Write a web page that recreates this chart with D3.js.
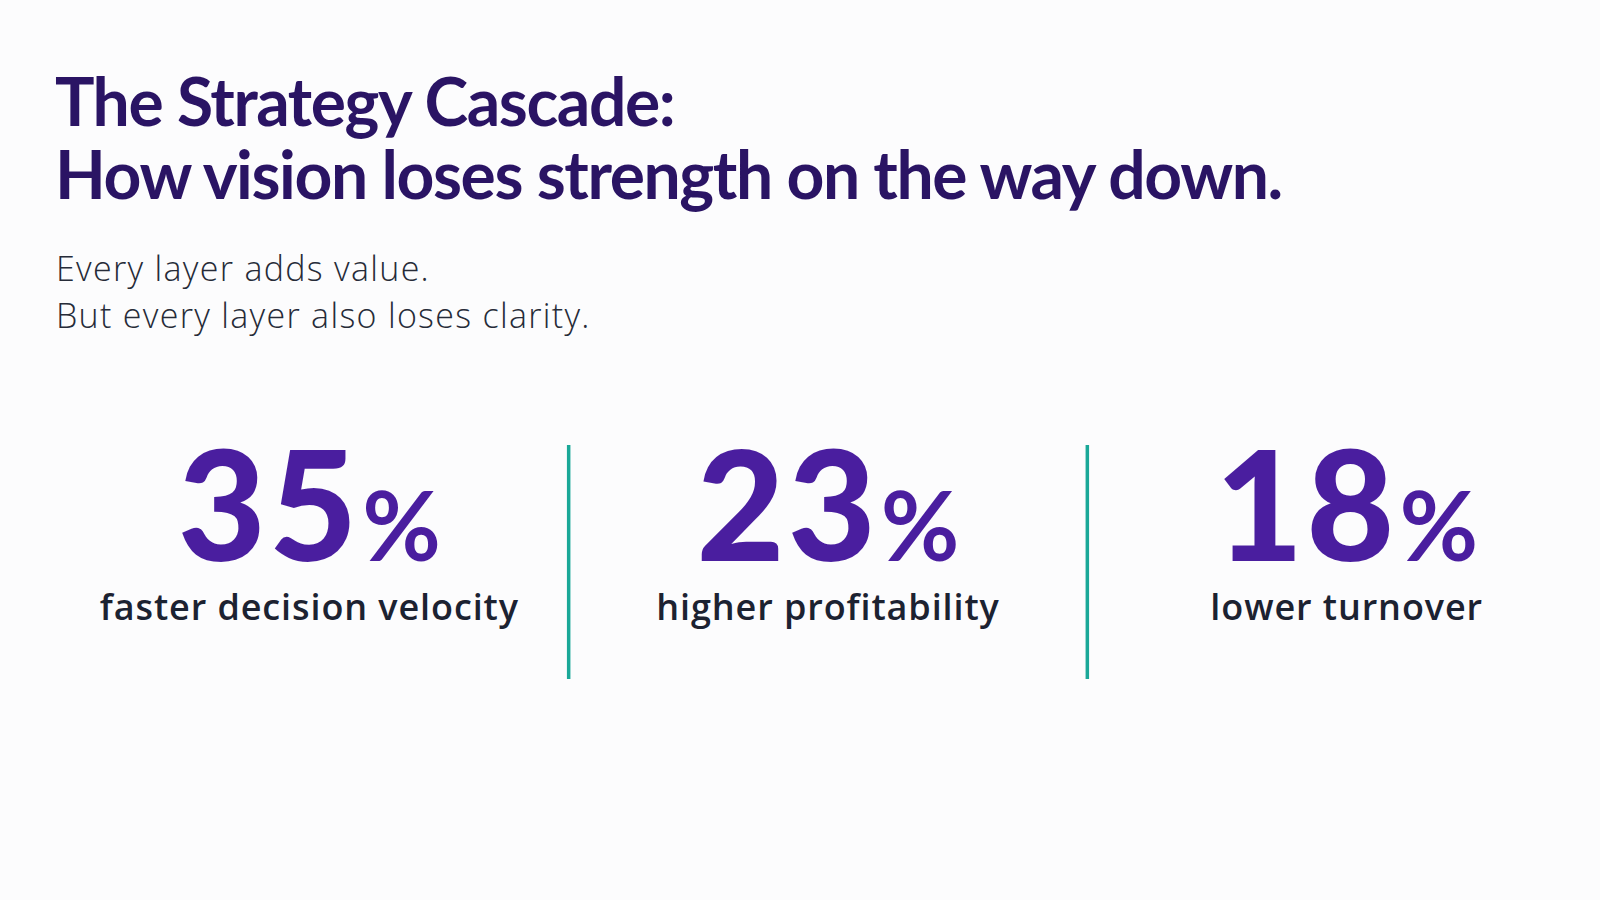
<!DOCTYPE html>
<html>
<head>
<meta charset="utf-8">
<script src="https://cdn.jsdelivr.net/npm/d3@7"></script>
<style>
  html, body { margin: 0; padding: 0; background: #fcfcfd; }
  svg { display: block; }
</style>
</head>
<body>
<svg class="cascade" width="1600" height="900"></svg>
<script>
// data
var titleLines = ["The Strategy Cascade:", "How vision loses strength on the way down."];
var subtitleLines = ["Every layer adds value.", "But every layer also loses clarity."];
var statValues = [35, 23, 18];
var statLabels = ["faster decision velocity", "higher profitability", "lower turnover"];

var svg = d3.select(".cascade"),
    width = +svg.attr("width"),
    height = +svg.attr("height");

var font = "Lato, 'Noto Sans', sans-serif";
var font2 = "'Open Sans', 'Noto Sans', sans-serif";

svg.append("rect")
    .attr("width", width)
    .attr("height", height)
    .attr("fill", "#fcfcfd");

// title
svg.append("g").selectAll("text")
    .data(titleLines)
    .enter().append("text")
    .attr("x", 55)
    .attr("y", function(d, i) { return 126 + i * 73; })
    .attr("font-family", font)
    .attr("font-weight", 700)
    .attr("font-size", 66)
    .attr("fill", "#2a1464")
    .attr("letter-spacing", -1.4)
    .text(function(d) { return d; });

// subtitle
svg.append("g").selectAll("text")
    .data(subtitleLines)
    .enter().append("text")
    .attr("x", 56)
    .attr("y", function(d, i) { return 281 + i * 47; })
    .attr("font-family", font2)
    .attr("font-weight", 300)
    .attr("font-size", 34)
    .attr("letter-spacing", 1.3)
    .attr("fill", "#262b38")
    .text(function(d) { return d; });

// stat columns
var x = d3.scaleBand()
    .domain(statLabels)
    .range([50, 1606]);

var stats = statValues.map(function(v, i) { return { value: v, label: statLabels[i] }; });

var col = svg.append("g").selectAll(".stat")
    .data(stats)
    .enter().append("g")
    .attr("class", "stat")
    .attr("transform", function(d) { return "translate(" + (x(d.label) + x.bandwidth() / 2) + ",0)"; });

var big = col.append("text")
    .attr("y", 561)
    .attr("text-anchor", "middle")
    .attr("font-family", font)
    .attr("font-weight", 900)
    .attr("fill", "#4a1e9f");

big.append("tspan")
    .attr("font-size", 152)
    .attr("letter-spacing", 3)
    .text(function(d) { return d.value; });

big.append("tspan")
    .attr("font-size", 96)
    .attr("font-weight", 700)
    .attr("dx", 2)
    .text("%");

col.append("text")
    .attr("y", 620)
    .attr("text-anchor", "middle")
    .attr("font-family", font2)
    .attr("font-weight", 600)
    .attr("font-size", 36)
    .attr("letter-spacing", 0.9)
    .attr("fill", "#1c2231")
    .text(function(d) { return d.label; });

// dividers between columns
svg.append("g").selectAll("line")
    .data(statLabels.slice(1))
    .enter().append("line")
    .attr("x1", function(d) { return x(d); })
    .attr("x2", function(d) { return x(d); })
    .attr("y1", 445)
    .attr("y2", 679)
    .attr("stroke", "#1aa898")
    .attr("stroke-width", 3.5);
</script>
</body>
</html>
